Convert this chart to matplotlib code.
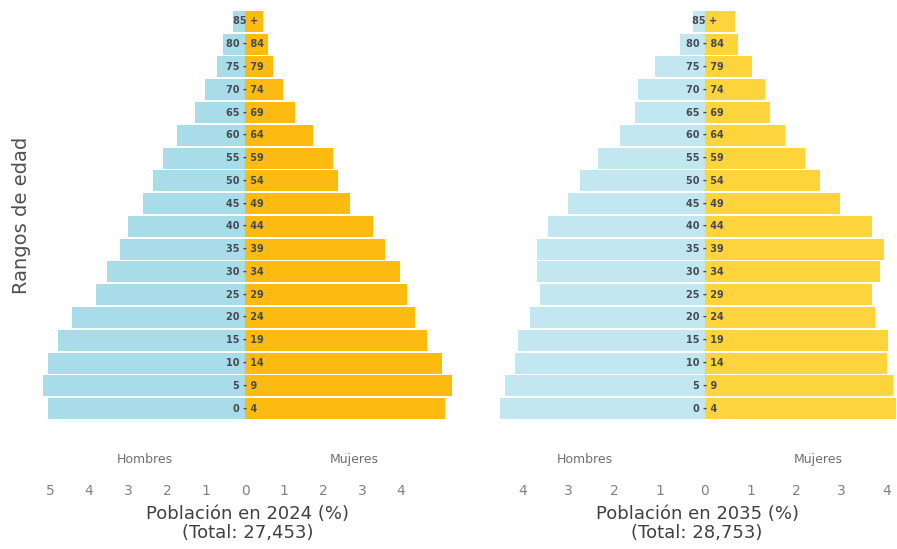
import matplotlib
matplotlib.use("Agg")
import matplotlib.pyplot as plt
import numpy as np

ages = ['0 - 4', '5 - 9', '10 - 14', '15 - 19', '20 - 24', '25 - 29', '30 - 34',
        '35 - 39', '40 - 44', '45 - 49', '50 - 54', '55 - 59', '60 - 64',
        '65 - 69', '70 - 74', '75 - 79', '80 - 84', '85 +']

men_2024 = [5.05, 5.18, 5.05, 4.79, 4.44, 3.82, 3.54, 3.20, 3.00, 2.62, 2.36, 2.10,
            1.74, 1.28, 1.03, 0.72, 0.56, 0.31]
women_2024 = [5.13, 5.31, 5.05, 4.67, 4.36, 4.15, 3.97, 3.59, 3.28, 2.69, 2.38, 2.26,
              1.74, 1.28, 0.97, 0.72, 0.59, 0.46]
men_2035 = [4.50, 4.40, 4.18, 4.11, 3.85, 3.63, 3.69, 3.69, 3.45, 3.00, 2.75, 2.35,
            1.87, 1.54, 1.47, 1.10, 0.55, 0.26]
women_2035 = [4.20, 4.13, 4.00, 4.02, 3.74, 3.67, 3.85, 3.93, 3.67, 2.97, 2.53, 2.20,
              1.76, 1.43, 1.32, 1.03, 0.73, 0.66]

ticks_2024 = [-5, -4, -3, -2, -1, 0, 1, 2, 3, 4]
ticks_2035 = [-4, -3, -2, -1, 0, 1, 2, 3, 4]

xlabel_2024 = "Población en 2024 (%)\n(Total: 27,453)"
xlabel_2035 = "Población en 2035 (%)\n(Total: 28,753)"

plt.rcParams['font.family'] = ['DejaVu Sans']
fig = plt.figure(figsize=(8.97, 5.49), dpi=100)

W, H = 897.0, 549.0
top_px, bot_px = 10, 420
ax1 = fig.add_axes([40 / W, 1 - bot_px / H, (455 - 40) / W, (bot_px - top_px) / H])
ax2 = fig.add_axes([497 / W, 1 - bot_px / H, (897 - 497) / W, (bot_px - top_px) / H])

panels = [
    (ax1, men_2024, women_2024, ticks_2024, xlabel_2024, (-5.26, 5.38),
     '#a8dce9', '#fdbb12', (-2.56, 2.80)),
    (ax2, men_2035, women_2035, ticks_2035, xlabel_2035, (-4.57, 4.22),
     '#c3e7f0', '#fdd43c', (-2.64, 2.48)),
]

y = np.arange(len(ages))
for ax, men, women, ticks, xlabel, xlim, cm, cw, lab_x in panels:
    ax.barh(y, -np.array(men), height=0.92, color=cm, edgecolor='none')
    ax.barh(y, women, height=0.92, color=cw, edgecolor='none')
    for yi, a in zip(y, ages):
        ax.text(0, yi, a, ha='center', va='center', fontsize=7,
                fontweight='bold', color='#454b50')
    ax.set_xlim(*xlim)
    ax.set_ylim(-0.5, len(ages) - 0.5)
    ax.set_yticks([])
    ax.set_xticks(ticks)
    ax.set_xticklabels([str(abs(t)) for t in ticks])
    ax.tick_params(axis='x', length=0, pad=46, labelsize=10, labelcolor='#808080')
    for s in ax.spines.values():
        s.set_visible(False)
    ax.set_xlabel(xlabel, fontsize=13, color='#404040', labelpad=5, linespacing=1.05)
    ax.text(lab_x[0], -1.95, 'Hombres', ha='center', va='top', fontsize=9,
            color='#707070')
    ax.text(lab_x[1], -1.95, 'Mujeres', ha='center', va='top', fontsize=9,
            color='#707070')

fig.text(22 / W, 1 - 215 / H, 'Rangos de edad', rotation=90, ha='center',
         va='center', fontsize=14, color='#505050')

fig.savefig('out.png', dpi=100)
